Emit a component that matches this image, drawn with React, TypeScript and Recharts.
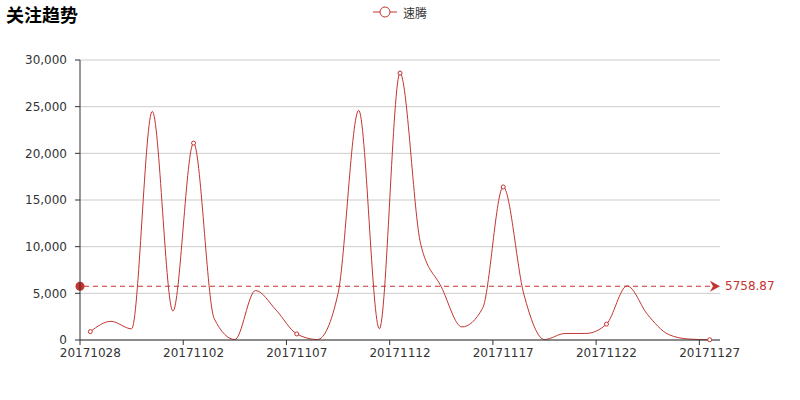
import React from 'react';
import { LineChart, Line, XAxis, YAxis, CartesianGrid, ReferenceLine } from 'recharts';

const titleText = '关注趋势';
const seriesName = '速腾';
const dates = [
  '20171028', '20171029', '20171030', '20171031', '20171101', '20171102', '20171103', '20171104',
  '20171105', '20171106', '20171107', '20171108', '20171109', '20171110', '20171111', '20171112',
  '20171113', '20171114', '20171115', '20171116', '20171117', '20171118', '20171119', '20171120',
  '20171121', '20171122', '20171123', '20171124', '20171125', '20171126', '20171127',
];
const followValues = [
  900, 2000, 1200, 24500, 3100, 21100, 2300, 50,
  5300, 3200, 650, 50, 5000, 24600, 1200, 28600,
  10300, 5700, 1400, 3400, 16400, 4900, 50, 700,
  700, 1700, 5800, 2700, 600, 100, 30,
];
const averageValue = 5758.87;
const yTicks = [0, 5000, 10000, 15000, 20000, 25000, 30000];

const data = dates.map((d, i) => ({ date: d, value: followValues[i] }));

const RED = '#c23531';
const AXIS = '#333';
const FONT = '"DejaVu Sans", sans-serif';

const XTick = (props: any) => {
  const { x, y, payload } = props;
  const off = payload && typeof payload.offset === 'number' && payload.offset > 0 ? payload.offset : 640 / 31 / 2;
  return (
    <g>
      <line x1={x - off} x2={x - off} y1={y - 8} y2={y - 3} stroke={AXIS} strokeWidth={1} />
      <text x={x} y={y} dy="0.71em" textAnchor="middle" fill={AXIS} fontSize={12} fontFamily={FONT}>
        {payload.value}
      </text>
    </g>
  );
};

const AvgShape = (props: any) => {
  const { x1, y1, x2 } = props;
  const y = y1;
  return (
    <g>
      <line x1={x1 + 4} y1={y} x2={x2 - 9} y2={y} stroke={RED} strokeWidth={1} strokeDasharray="5 4" />
      <circle cx={x1} cy={y} r={4.5} fill={RED} />
      <polygon points={`${x2 - 10},${y - 5.5} ${x2},${y} ${x2 - 10},${y + 5.5} ${x2 - 7},${y}`} fill={RED} />
      <text x={x2 + 5} y={y + 4} fill={RED} fontSize={12} fontFamily={FONT}>
        {averageValue.toFixed(2)}
      </text>
    </g>
  );
};

const renderDot = (props: any) => {
  const { cx, cy, index } = props;
  if (index % 5 !== 0) return <g key={`d${index}`} />;
  return <circle key={`d${index}`} cx={cx} cy={cy} r={2} fill="#fff" stroke={RED} strokeWidth={1} />;
};

export default function App() {
  return (
    <div style={{ position: 'absolute', left: 0, top: 0, width: 800, height: 400, background: '#fff' }}>
      <div
        style={{
          position: 'absolute',
          left: 6,
          top: 3,
          fontSize: 18,
          fontWeight: 'bold',
          color: '#000',
          fontFamily: '"Noto Sans CJK SC", sans-serif',
          lineHeight: '22px',
        }}
      >
        {titleText}
      </div>
      <div
        style={{
          position: 'absolute',
          left: 372,
          top: 3,
          height: 18,
          display: 'flex',
          alignItems: 'center',
          fontSize: 12,
          color: AXIS,
          fontFamily: '"Noto Sans CJK SC", sans-serif',
        }}
      >
        <svg width={26} height={14} style={{ marginRight: 5 }}>
          <line x1={1} y1={7} x2={25} y2={7} stroke={RED} strokeWidth={1} />
          <circle cx={13} cy={7} r={5} fill="#fff" stroke={RED} strokeWidth={1} />
        </svg>
        <span>{seriesName}</span>
      </div>
      <LineChart
        width={800}
        height={400}
        data={data}
        margin={{ top: 60, right: 80, bottom: 30, left: 0 }}
        style={{ position: 'absolute', left: 0, top: 0 }}
      >
        <CartesianGrid vertical={false} stroke="#ccc" />
        <XAxis
          dataKey="date"
          scale="band"
          height={30}
          interval={4}
          tickLine={false}
          tickSize={5}
          tickMargin={3}
          axisLine={{ stroke: AXIS }}
          tick={<XTick />}
        />
        <YAxis
          width={80}
          domain={[0, 30000]}
          ticks={yTicks}
          tickSize={5}
          tickMargin={8}
          axisLine={{ stroke: AXIS }}
          tickLine={{ stroke: AXIS }}
          tick={{ fill: AXIS, fontSize: 12, fontFamily: FONT }}
          tickFormatter={(v: number) => v.toLocaleString('en-US')}
        />
        <ReferenceLine y={averageValue} shape={<AvgShape />} ifOverflow="extendDomain" />
        <Line
          type="monotone"
          dataKey="value"
          name={seriesName}
          stroke={RED}
          strokeWidth={1}
          dot={renderDot}
          activeDot={false}
          isAnimationActive={false}
        />
      </LineChart>
    </div>
  );
}
